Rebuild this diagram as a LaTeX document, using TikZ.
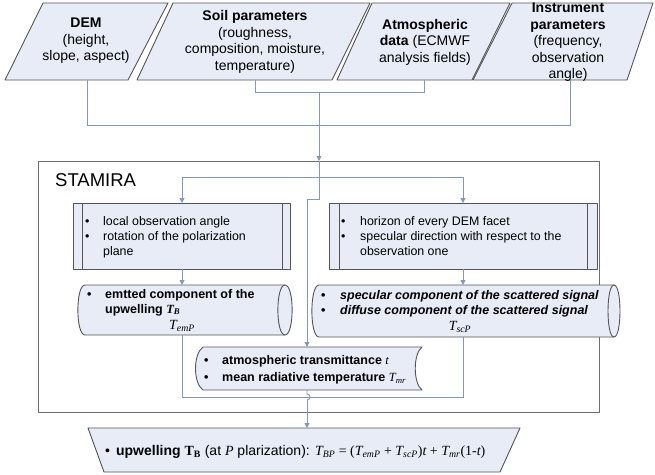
\documentclass[tikz,border=0pt]{standalone}
\usepackage{fontspec}
\setmainfont{Liberation Sans}
\newfontfamily\tms{Liberation Serif}
\usetikzlibrary{arrows.meta,calc}
\definecolor{fillc}{HTML}{E8ECF7}
\definecolor{linec}{HTML}{8498BC}
\definecolor{bordc}{HTML}{555555}
\definecolor{framec}{HTML}{6E6E6E}
\newcommand\Tv[2]{{\tms\itshape #1\textsubscript{#2}}}
\begin{document}
\begin{tikzpicture}[x=1pt,y=-1pt,
  shp/.style={draw=bordc, fill=fillc, line width=0.9pt, line join=round},
  con/.style={draw=linec, line width=0.9pt},
  arr/.style={con, -{Triangle[length=5pt,width=5pt]}},
  ttxt/.style={align=center, font=\fontsize{14}{16.5}\selectfont, inner sep=0},
  btxt/.style={anchor=base west, inner sep=0, font=\fontsize{12.4}{15}\selectfont},
  stxt/.style={anchor=base west, inner sep=0, font=\fontsize{12.5}{15}\selectfont\bfseries},
]
\useasboundingbox (0,0) rectangle (655,474);

% ---------- input parallelograms ----------
\draw[shp] (43,3) -- (168,3) -- (128,80) -- (5,80) -- cycle;
\node[ttxt] (dem) at (86,41) {\textbf{DEM}\\(height,\\slope, aspect)};
\draw[shp] (173,3) -- (370,3) -- (332,80) -- (137,80) -- cycle;
\node[ttxt] (soil) at (255,42) {\textbf{Soil parameters}\\(roughness,\\composition, moisture,\\temperature)};
\draw[shp] (372,3) -- (510,3) -- (472,80) -- (337,80) -- cycle;
\node[ttxt] (atmd) at (425,42) {\textbf{Atmospheric}\\\textbf{data} (ECMWF\\analysis fields)};
\draw[shp] (512,3) -- (653,3) -- (627,80) -- (473,80) -- cycle;
\node[ttxt] (inst) at (568,42.5) {\textbf{Instrument}\\\textbf{parameters}\\(frequency,\\observation\\angle)};

\coordinate (demS) at (87,80);
\coordinate (instS) at (570,80);
\coordinate (soilS) at (255,80);
\coordinate (atmdS) at (424,80);
\coordinate (busL) at (87,125);
\coordinate (busR) at (570,125);
\coordinate (sbusL) at (255,92);
\coordinate (sbusR) at (424,92);
\coordinate (mainTop) at (319,92);

\draw[con] (demS) -- (busL) -- (busR) -- (instS);
\draw[con] (soilS) -- (sbusL) -- (sbusR) -- (atmdS);

% ---------- STAMIRA frame ----------
\node[draw=framec, line width=1pt, minimum width=561pt, minimum height=251pt, inner sep=0, outer sep=0] (stamira) at (318.5,286.5) {};
\node[anchor=base west, inner sep=0, font=\fontsize{18.5}{20}\selectfont] (stamlbl) at (55,186.5) {STAMIRA};
\coordinate (stamN) at (319,161);
\draw[arr] (mainTop) -- (stamN);

% ---------- process boxes ----------
\draw[shp] (73,203) rectangle (290,269);
\draw[bordc, line width=0.9pt] (82,203) -- (82,269) (282,203) -- (282,269);
\node[btxt] (lproc) at (85,225.5) {\begin{tabular}[t]{@{}p{18pt}@{}l@{}}•&local observation angle\\ •&rotation of the polarization\\ &plane\end{tabular}};
\draw[shp] (329,203) rectangle (597,269);
\draw[bordc, line width=0.9pt] (339,203) -- (339,269) (587,203) -- (587,269);
\node[btxt] (rproc) at (341,225.5) {\begin{tabular}[t]{@{}p{19pt}@{}l@{}}•&horizon of every DEM facet\\ •&specular direction with respect to the\\ &observation one\end{tabular}};

\coordinate (lprocN) at (182,203);
\coordinate (rprocN) at (463,203);
\coordinate (lprocS) at (182,269);
\coordinate (rprocS) at (463,269);
\coordinate (brL) at (182,177);
\coordinate (brR) at (463,177);
\coordinate (jog1) at (319,199);
\coordinate (jog2) at (307,199);

\draw[con] (stamN) -- (jog1) -- (jog2);
\draw[con] (brL) -- (brR);
\draw[arr] (brL) -- (lprocN);
\draw[arr] (brR) -- (rprocN);

% ---------- storage shapes ----------
\draw[shp] (85,285) -- (285,285) .. controls (294.5,285) and (294.5,335) .. (285,335) -- (85,335) .. controls (75.5,335) and (75.5,285) .. (85,285) -- cycle;
\draw[bordc, line width=0.9pt] (285,285) .. controls (275.5,285) and (275.5,335) .. (285,335);
\node[stxt] (lstor) at (87,298) {\begin{tabular}[t]{@{}p{18pt}@{}l@{}}•&emtted component of the\\ &upwelling \Tv{T}{B}\end{tabular}};
\node[anchor=base, inner sep=0, font=\fontsize{14}{15}\selectfont] (temp) at (182,329.5) {\Tv{T}{emP}};

\draw[shp] (319,285) -- (614,285) .. controls (622,285) and (622,337) .. (614,337) -- (319,337) .. controls (309.5,337) and (309.5,285) .. (319,285) -- cycle;
\draw[bordc, line width=0.9pt] (614,285) .. controls (606,285) and (606,337) .. (614,337);
\node[stxt] (rstor) at (321,299) {\begin{tabular}[t]{@{}p{19pt}@{}l@{}}•&\itshape specular component of the scattered signal\\ •&\itshape diffuse component of the scattered signal\end{tabular}};
\node[anchor=base, inner sep=0, font=\fontsize{14}{15}\selectfont] (tscp) at (460,330.5) {\Tv{T}{scP}};

\coordinate (lstorN) at (182,285);
\coordinate (rstorN) at (463,285);
\draw[arr] (lprocS) -- (lstorN);
\draw[arr] (rprocS) -- (rstorN);

% ---------- atmosphere storage ----------
\draw[shp] (203,347) -- (422,347) .. controls (413,354) and (413,383) .. (422,390) -- (203,390) .. controls (193,383) and (193,354) .. (203,347) -- cycle;
\node[stxt] (atm) at (204,364.5) {\begin{tabular}[t]{@{}p{18pt}@{}l@{}}•&atmospheric transmittance {\mdseries\tms\itshape t}\\[2pt] •&mean radiative temperature {\mdseries\Tv{T}{mr}}\end{tabular}};
\coordinate (atmN) at (307,347);
\coordinate (atmS) at (307,390);
\draw[arr] (jog2) -- (atmN);

% ---------- output ----------
\coordinate (lstorS) at (182,335);
\coordinate (rstorS) at (463,337);
\coordinate (cbL) at (182,397);
\coordinate (cbR) at (463,397);
\draw[con] (lstorS) -- (cbL) -- (cbR) -- (rstorS);

\draw[shp] (88,428) -- (520,428) -- (500,472) -- (104,472) -- cycle;
\coordinate (outN) at (307,428);
\coordinate (hopA) at (307,394);
\coordinate (hopB) at (307,400);
\draw[con] (atmS) -- (hopA) .. controls (311,394) and (311,400) .. (hopB);
\draw[arr] (hopB) -- (outN);
\node[anchor=base west, inner sep=0, font=\fontsize{14}{16}\selectfont] (out) at (105,455) {•\hspace{6pt}\textbf{upwelling} {\tms\bfseries T\textsubscript{B}} (at {\tms\itshape P} plarization): {\tms\itshape T\textsubscript{BP}\/ \upshape= (\itshape T\textsubscript{emP} \upshape+ \itshape T\textsubscript{scP}\upshape)\itshape t \upshape+ \itshape T\textsubscript{mr}\upshape(1-\itshape t\upshape)}};
\end{tikzpicture}
\end{document}
